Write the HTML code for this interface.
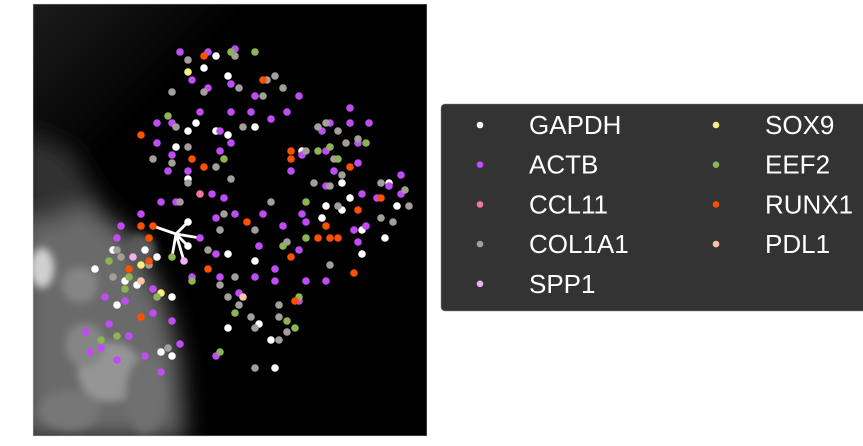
<!DOCTYPE html>
<html><head><meta charset="utf-8"><style>
html,body{margin:0;padding:0;background:#fff;}
body{width:863px;height:446px;overflow:hidden;position:relative;font-family:"Liberation Sans",Arial,sans-serif;}
</style></head><body>
<svg id="chart" width="863" height="446" viewBox="0 0 863 446" style="position:absolute;left:0;top:0">
<defs>
<filter id="blur" x="-50%" y="-50%" width="200%" height="200%"><feGaussianBlur stdDeviation="12"/></filter>
<filter id="blur2" x="-50%" y="-50%" width="200%" height="200%"><feGaussianBlur stdDeviation="4"/></filter>
<clipPath id="clip"><rect x="33" y="4" width="394" height="432"/></clipPath>
<linearGradient id="tl" x1="0" y1="0" x2="1" y2="1"><stop offset="0" stop-color="#1c1c1c"/><stop offset="0.5" stop-color="#000"/></linearGradient>
</defs>
<g clip-path="url(#clip)">
<rect x="33" y="4" width="394" height="432" fill="#000"/>
<rect x="33" y="4" width="220" height="220" fill="url(#tl)"/>
<g filter="url(#blur)">
<path d="M20,185 L80,195 L130,235 L165,300 L180,360 L185,440 L20,440 Z" fill="#6a6a6a"/>
<path d="M20,130 L70,150 L100,200 L40,225 L20,215Z" fill="#333"/>
</g>
<g filter="url(#blur2)">
<ellipse cx="42" cy="268" rx="12" ry="20" fill="#d0d0d0"/>
<ellipse cx="110" cy="372" rx="32" ry="30" fill="#959595"/>
<ellipse cx="80" cy="285" rx="18" ry="18" fill="#858585"/>
<ellipse cx="140" cy="250" rx="16" ry="16" fill="#5a5a5a"/>
<ellipse cx="85" cy="345" rx="20" ry="22" fill="#858585"/>
<ellipse cx="70" cy="410" rx="30" ry="20" fill="#777"/>
<ellipse cx="145" cy="395" rx="20" ry="38" fill="#707070"/>
</g>
</g>
<rect x="33" y="4" width="394" height="432" fill="none" stroke="#ddd" stroke-width="0.5"/>
<g id="star"></g>
<g id="points"></g>
<g id="legend">
<rect x="441" y="104" width="430" height="207" rx="4" fill="#333" stroke="#888" stroke-width="0.5"/>
</g>
</svg>
<script>
const genes = ["GAPDH","ACTB","CCL11","COL1A1","SPP1","SOX9","EEF2","RUNX1","PDL1"];
const colors = ["#ffffff","#bf4cf5","#f57898","#a39e98","#eeb0f2","#f7ee80","#8cb454","#ff5000","#ffc2a8"];
const gapdhPts = [[216,56],[204,68],[228,76],[196,123],[188,131],[216,131],[228,135],[255,127],[176,147],[188,179],[302,151],[342,183],[389,183],[350,198],[326,206],[342,210],[397,206],[322,218],[362,230],[385,238],[228,254],[362,254],[255,261],[113,250],[145,250],[157,257],[95,269],[125,281],[137,285],[172,297],[117,305],[259,324],[228,328],[271,340],[161,352],[172,356],[275,368],[188,246],[188,222]];
const actbPts = [[180,52],[208,52],[235,49],[192,80],[231,84],[208,88],[255,96],[299,96],[200,112],[231,112],[251,112],[287,112],[271,119],[157,123],[172,123],[220,131],[157,143],[231,143],[172,155],[220,151],[168,171],[188,171],[212,194],[224,198],[161,202],[176,202],[141,214],[235,214],[263,214],[350,108],[330,123],[350,123],[369,123],[322,131],[358,143],[302,155],[326,151],[358,163],[291,171],[334,171],[401,175],[326,186],[389,186],[401,194],[362,194],[377,198],[302,214],[216,218],[306,222],[366,226],[354,230],[283,226],[121,226],[117,238],[358,242],[259,246],[299,250],[216,254],[275,269],[192,277],[220,277],[255,277],[275,281],[306,281],[326,281],[153,289],[105,297],[125,301],[239,293],[299,301],[153,313],[172,321],[109,324],[86,332],[129,336],[180,344],[90,352],[101,348],[145,356],[216,356],[117,360],[161,372],[200,238]];
const ccl11Pts = [[200,194]];
const col1a1Pts = [[235,56],[188,60],[267,80],[275,76],[239,88],[204,92],[172,92],[283,88],[263,96],[176,127],[243,127],[188,147],[153,159],[172,163],[216,167],[188,183],[231,179],[180,202],[271,202],[224,214],[318,127],[326,123],[338,131],[358,139],[346,143],[306,151],[334,159],[342,175],[314,183],[330,186],[381,183],[405,190],[338,206],[409,206],[381,218],[393,222],[220,230],[255,230],[287,242],[208,250],[117,250],[121,257],[149,265],[330,265],[113,277],[235,277],[220,285],[228,297],[239,305],[279,305],[251,317],[279,317],[255,328],[287,332],[279,340],[168,348],[255,368]];
const spp1Pts = [[133,257],[184,261]];
const sox9Pts = [[188,72],[141,265],[161,293]];
const eef2Pts = [[231,52],[255,52],[168,116],[224,159],[366,143],[330,147],[318,151],[338,159],[306,202],[306,238],[283,246],[109,261],[129,277],[192,281],[125,289],[157,297],[299,297],[235,313],[287,321],[295,328],[101,340],[117,336],[220,352],[172,257]];
const runx1Pts = [[204,56],[263,80],[141,135],[192,159],[204,167],[291,151],[291,159],[350,167],[381,198],[358,210],[326,226],[247,222],[141,226],[149,238],[318,238],[330,238],[338,238],[291,257],[149,261],[129,269],[208,269],[354,273],[295,301],[141,317],[153,226]];
const pdl1Pts = [[141,281],[243,297]];
const seriesPts = [gapdhPts,actbPts,ccl11Pts,col1a1Pts,spp1Pts,sox9Pts,eef2Pts,runx1Pts,pdl1Pts];
const starCenter = [176,234];
const starEnds = [[153,226],[188,222],[200,238],[188,246],[184,261],[172,257]];
const xDomain=[33,427], yDomain=[4,436];
const xScale = v => 33 + (v - xDomain[0]) * (394/(xDomain[1]-xDomain[0]));
const yScale = v => 4 + (v - yDomain[0]) * (432/(yDomain[1]-yDomain[0]));
const NS="http://www.w3.org/2000/svg";
const star=document.getElementById('star');
starEnds.forEach(e=>{
  const l=document.createElementNS(NS,'line');
  l.setAttribute('x1',xScale(starCenter[0]));l.setAttribute('y1',yScale(starCenter[1]));
  l.setAttribute('x2',xScale(e[0]));l.setAttribute('y2',yScale(e[1]));
  l.setAttribute('stroke','#fff');l.setAttribute('stroke-width','2.8');
  
  
  star.appendChild(l);
});
const pg=document.getElementById('points');
seriesPts.forEach((pts,i)=>{
  pts.forEach(p=>{
    const c=document.createElementNS(NS,'circle');
    c.setAttribute('cx',xScale(p[0]));c.setAttribute('cy',yScale(p[1]));
    c.setAttribute('r','3.8');c.setAttribute('fill',colors[i]);
    
    
    pg.appendChild(c);
  });
});
const lg=document.getElementById('legend');
genes.forEach((g,i)=>{
  const col=i<5?0:1,row=i<5?i:i-5;
  const cx=480+col*236, cy=125+row*39.7;
  const c=document.createElementNS(NS,'circle');
  c.setAttribute('cx',cx);c.setAttribute('cy',cy);c.setAttribute('r','3.3');c.setAttribute('fill',colors[i]);
  
  
  lg.appendChild(c);
  const t=document.createElementNS(NS,'text');
  t.setAttribute('x',cx+49);t.setAttribute('y',cy+9);t.setAttribute('fill','#fff');
  t.setAttribute('font-size','26');t.setAttribute('font-family','Liberation Sans, Arial, sans-serif');
  t.textContent=g;
  
  
  lg.appendChild(t);
});
</script>
</body></html>
